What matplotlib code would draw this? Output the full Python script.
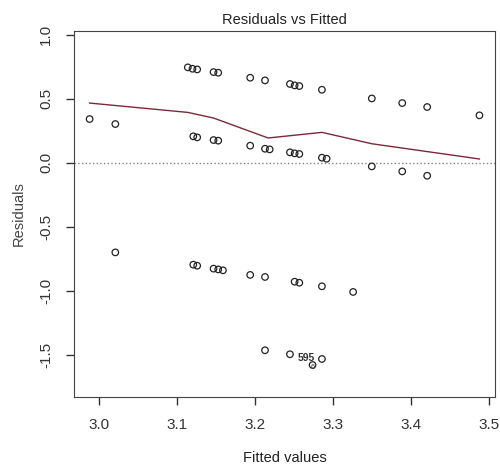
import matplotlib
matplotlib.use('Agg')
import matplotlib.pyplot as plt

plt.rcParams['font.family'] = ['Liberation Sans', 'DejaVu Sans']

# fitted values / residuals
fitted = [2.988, 3.021,
          3.114, 3.120, 3.126, 3.147, 3.153, 3.194, 3.213, 3.245, 3.251, 3.257,
          3.286, 3.350, 3.389, 3.421, 3.488,
          3.121, 3.126, 3.147, 3.153, 3.194, 3.213, 3.219, 3.245, 3.251, 3.257,
          3.286, 3.292, 3.350, 3.389, 3.421,
          3.021, 3.121, 3.126, 3.147, 3.153, 3.159, 3.194, 3.213, 3.251, 3.257,
          3.286, 3.326,
          3.213, 3.245, 3.286, 3.274]
resid = [0.341, 0.302,
         0.745, 0.734, 0.729, 0.708, 0.703, 0.664, 0.643, 0.615, 0.604, 0.599,
         0.570, 0.502, 0.466, 0.435, 0.370,
         0.206, 0.198, 0.177, 0.172, 0.133, 0.109, 0.104, 0.081, 0.073, 0.068,
         0.039, 0.031, -0.029, -0.068, -0.102,
         -0.701, -0.797, -0.805, -0.828, -0.834, -0.841, -0.877, -0.893, -0.930, -0.938,
         -0.966, -1.010,
         -1.466, -1.497, -1.534, -1.581]

# smoother
smooth_x = [2.988, 3.114, 3.147, 3.217, 3.286, 3.350, 3.488]
smooth_y = [0.466, 0.393, 0.349, 0.193, 0.237, 0.148, 0.029]

fig = plt.figure(figsize=(5, 4.68), dpi=100)
ax = fig.add_axes([0.148, 0.152, 0.842, 0.782])

ax.axhline(0, color='#808080', linestyle=':', linewidth=1)
ax.plot(smooth_x, smooth_y, color='#7a2a3a', linewidth=1)
ax.scatter(fitted, resid, s=22, facecolors='none', edgecolors='#222222', linewidths=0.9, zorder=3)

# point ids (overlapping in the original)
ax.text(3.266, -1.528, '595', fontsize=7.5, fontweight='bold', ha='center', va='center', color='#333333')
ax.text(3.274, -1.60, '6', fontsize=5.5, ha='center', va='center', color='#333333')

ax.set_xlim(2.968, 3.508)
ax.set_ylim(-1.83, 1.03)
ax.set_xticks([3.0, 3.1, 3.2, 3.3, 3.4, 3.5])
ax.set_xticklabels(['3.0', '3.1', '3.2', '3.3', '3.4', '3.5'])
ax.set_yticks([-1.5, -1.0, -0.5, 0.0, 0.5, 1.0])
ax.set_yticklabels(['-1.5', '-1.0', '-0.5', '0.0', '0.5', '1.0'], rotation=90, va='center')
ax.tick_params(colors='#333333', labelsize=11, length=6, width=1, pad=9)
for s in ax.spines.values():
    s.set_color('#444444')

ax.set_title('Residuals vs Fitted', fontsize=10.5, pad=5, color='#222222')
ax.set_xlabel('Fitted values', fontsize=10.5, labelpad=14, color='#222222')
ax.set_ylabel('Residuals', fontsize=10.5, labelpad=10, color='#444444')

fig.savefig('out.png')
